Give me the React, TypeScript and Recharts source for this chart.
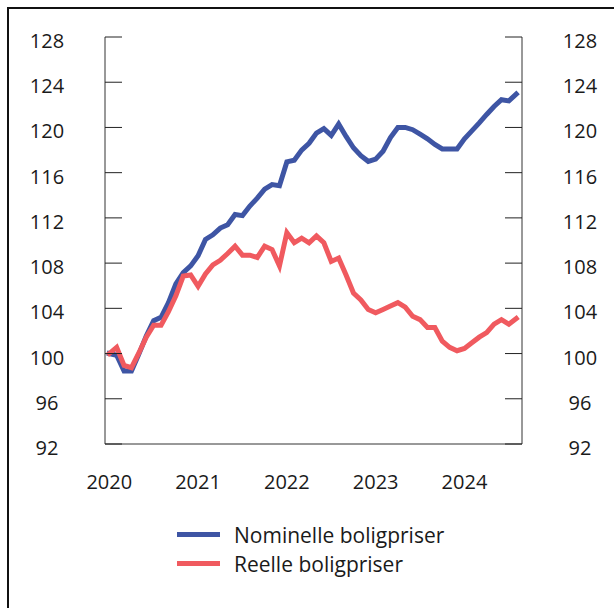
import { LineChart, Line, XAxis, YAxis, Legend } from "recharts";

const START_YEAR = 2020;

// Boligprisindeks, januar 2020 = 100, månedlig
const NOMINELLE = [
  100.0, 99.85, 98.45, 98.45, 99.95, 101.55, 102.9, 103.2, 104.5, 106.15,
  107.15, 107.75, 108.65, 110.1, 110.5, 111.1, 111.4, 112.3, 112.2, 113.05,
  113.75, 114.55, 114.95, 114.85, 116.95, 117.1, 118.0, 118.6, 119.5, 119.9,
  119.3, 120.3, 119.2, 118.2, 117.5, 117.0, 117.2, 117.9, 119.1, 120.0,
  120.0, 119.8, 119.4, 119.0, 118.5, 118.1, 118.1, 118.1, 119.0, 119.7,
  120.4, 121.15, 121.85, 122.45, 122.35, 122.95,
];

const REELLE = [
  100.0, 100.55, 98.95, 98.75, 100.05, 101.45, 102.5, 102.5, 103.7, 105.1,
  106.85, 106.95, 105.95, 107.05, 107.85, 108.25, 108.85, 109.5, 108.7, 108.7,
  108.5, 109.5, 109.2, 107.75, 110.7, 109.8, 110.2, 109.8, 110.4, 109.8,
  108.15, 108.45, 106.95, 105.35, 104.75, 103.9, 103.6, 103.9, 104.2, 104.5,
  104.1, 103.3, 103.0, 102.3, 102.3, 101.1, 100.55, 100.25, 100.45, 100.95,
  101.45, 101.85, 102.6, 103.0, 102.6, 103.1,
];

const Y_TICKS = [92, 96, 100, 104, 108, 112, 116, 120, 124, 128];
const Y_DOMAIN = [92, 128];
const YEAR_TICKS = [2020, 2021, 2022, 2023, 2024];

const BLUE = "#3e55a4";
const RED = "#f05a5f";
const FONT = "'Open Sans', 'Noto Sans', sans-serif";
const TEXT = "#1a1a1a";

const data = NOMINELLE.map((v, i) => ({
  t: START_YEAR + i / 12,
  nominelle: v,
  reelle: REELLE[i],
}));

// y-tick labels sit centred a bit below the tick line, like the original
const YTick = (props: any) => {
  const { x, y, payload } = props;
  return (
    <text
      x={x}
      y={y}
      dy={11}
      textAnchor="middle"
      fontSize={20}
      fill={TEXT}
      fontFamily={FONT}
    >
      {payload.value}
    </text>
  );
};

const renderLegend = (props: any) => {
  const { payload } = props;
  return (
    <div style={{ fontFamily: FONT, fontSize: 21, color: TEXT }}>
      {payload.map((entry: any) => (
        <div
          key={entry.value}
          style={{ display: "flex", alignItems: "center", height: 29 }}
        >
          <span
            style={{
              display: "inline-block",
              width: 43,
              height: 5,
              background: entry.color,
              marginRight: 14,
            }}
          />
          <span>{entry.value}</span>
        </div>
      ))}
    </div>
  );
};

const App = () => {
  return (
    <div
      style={{
        position: "absolute",
        left: 0,
        top: 0,
        width: 614,
        height: 608,
        background: "#fff",
        overflow: "hidden",
      }}
    >
      <div
        style={{
          position: "absolute",
          left: 7,
          top: 7,
          width: 640,
          height: 640,
          borderLeft: "2px solid #111",
          borderTop: "2px solid #111",
        }}
      />
      <LineChart
        width={614}
        height={608}
        data={data}
        margin={{ top: 37, right: 0, bottom: 104, left: 0 }}
        style={{ position: "absolute", left: 0, top: 0 }}
      >
        <XAxis
          dataKey="t"
          type="number"
          domain={[2019.952, 2024.648]}
          ticks={YEAR_TICKS}
          tickFormatter={(v) => String(Math.round(v))}
          tickLine={false}
          tickSize={0}
          tickMargin={31}
          height={60}
          axisLine={{ stroke: "#333" }}
          tick={{ fontSize: 20, fill: TEXT, fontFamily: FONT }}
          allowDataOverflow
        />
        <YAxis
          yAxisId="left"
          orientation="left"
          domain={Y_DOMAIN}
          allowDataOverflow
          ticks={Y_TICKS}
          width={105}
          tickSize={-17}
          tickMargin={75}
          tickLine={{ stroke: "#222" }}
          axisLine={{ stroke: "#333" }}
          tick={YTick}
          interval={0}
        />
        <YAxis
          yAxisId="right"
          orientation="right"
          domain={Y_DOMAIN}
          allowDataOverflow
          ticks={Y_TICKS}
          width={92}
          tickSize={-17}
          tickMargin={75}
          tickLine={{ stroke: "#222" }}
          axisLine={{ stroke: "#333" }}
          tick={YTick}
          interval={0}
        />
        <Legend
          layout="vertical"
          align="center"
          verticalAlign="middle"
          content={renderLegend}
          wrapperStyle={{ left: 177, top: 520, width: 340 }}
        />
        <Line
          yAxisId="left"
          type="linear"
          dataKey="nominelle"
          name="Nominelle boligpriser"
          stroke={BLUE}
          strokeWidth={5}
          strokeLinecap="square"
          dot={false}
          isAnimationActive={false}
        />
        {/* same scale as the left axis; bound right so that axis gets its ticks */}
        <Line
          yAxisId="right"
          type="linear"
          dataKey="reelle"
          name="Reelle boligpriser"
          stroke={RED}
          strokeWidth={5}
          strokeLinecap="square"
          dot={false}
          isAnimationActive={false}
        />
      </LineChart>
    </div>
  );
};

export default App;
